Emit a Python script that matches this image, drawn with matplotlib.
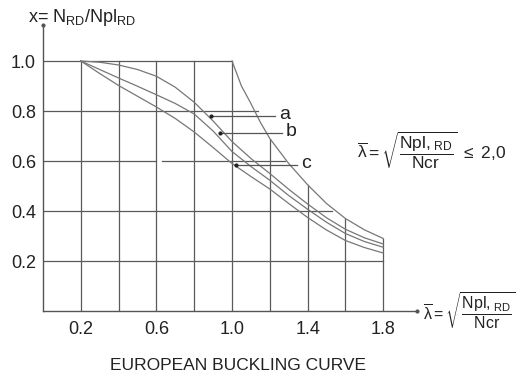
import matplotlib.pyplot as plt

plt.rcParams['font.family'] = ['Liberation Sans', 'DejaVu Sans']
plt.rcParams['mathtext.fontset'] = 'custom'
plt.rcParams['mathtext.rm'] = 'Liberation Sans'
plt.rcParams['mathtext.it'] = 'Liberation Sans'

lam = [0.2, 0.3, 0.4, 0.5, 0.6, 0.7, 0.8, 0.9, 1.0, 1.1, 1.2, 1.3, 1.4, 1.5, 1.6, 1.7, 1.8]
curve_a = [1.0, 0.995, 0.984, 0.966, 0.939, 0.895, 0.835, 0.76, 0.678, 0.61, 0.55, 0.487, 0.428, 0.373, 0.327, 0.293, 0.268]
curve_b = [1.0, 0.966, 0.932, 0.899, 0.865, 0.83, 0.788, 0.72, 0.638, 0.578, 0.523, 0.462, 0.407, 0.355, 0.31, 0.278, 0.255]
curve_c = [1.0, 0.95, 0.902, 0.859, 0.816, 0.77, 0.716, 0.654, 0.59, 0.538, 0.488, 0.43, 0.374, 0.324, 0.282, 0.254, 0.232]

# Euler curve, starting at lambda = 1.0
lam_euler = [1.0, 1.05, 1.1, 1.15, 1.2, 1.3, 1.4, 1.5, 1.6, 1.7, 1.8]
euler = [1.0, 0.9, 0.83, 0.755, 0.69, 0.59, 0.505, 0.43, 0.37, 0.325, 0.29]

# grid: vertical lines and how high they go
vgrid_x = [0.2, 0.4, 0.6, 0.8, 1.0, 1.2, 1.4, 1.6, 1.8]
vgrid_top = [1.0, 1.0, 1.0, 1.0, 1.0, 0.69, 0.505, 0.37, 0.29]
# horizontal lines: (y, x start, x end)
hgrid = [(0.2, 0.0, 1.8), (0.4, 0.0, 1.53), (0.6, 0.0, 0.6), (0.6, 0.63, 1.28),
         (0.8, 0.0, 1.14), (1.0, 0.0, 1.0)]

xticks = [0.2, 0.6, 1.0, 1.4, 1.8]
yticks = [0.2, 0.4, 0.6, 0.8, 1.0]

# curve labels with pointer lines
labels = ['a', 'b', 'c']
dot_x = [0.89, 0.935, 1.02]
dot_y = [0.78, 0.713, 0.584]
ptr_end = [1.23, 1.265, 1.345]

W, H = 521, 374
fig = plt.figure(figsize=(W / 100, H / 100), dpi=100)
x_max, y_max = 1.98, 1.144
ax = fig.add_axes([43 / W, (H - 311) / H, x_max * 189 / W, y_max * 250 / H])
ax.set_xlim(0, x_max)
ax.set_ylim(0, y_max)
for s in ['top', 'right']:
    ax.spines[s].set_visible(False)
for s in ['left', 'bottom']:
    ax.spines[s].set_color('#555555')
    ax.spines[s].set_linewidth(1.0)

ax.set_xticks(xticks)
ax.set_xticklabels([f'{v:.1f}' for v in xticks])
ax.set_yticks(yticks)
ax.set_yticklabels([f'{v:.1f}' for v in yticks])
ax.tick_params(length=0, labelsize=13, colors='#222222')
ax.tick_params(axis='x', pad=7)
ax.tick_params(axis='y', pad=5)

grid_col = '#5a5a5a'
for x, top in zip(vgrid_x, vgrid_top):
    ax.plot([x, x], [0, top], color=grid_col, lw=0.9)
for y, x0, x1 in hgrid:
    ax.plot([x0, x1], [y, y], color=grid_col, lw=0.9)

curve_col = '#777777'
for vals in (curve_a, curve_b, curve_c):
    ax.plot(lam, vals, color=curve_col, lw=0.9)
ax.plot(lam_euler, euler, color=curve_col, lw=0.9)

for lab, dx, dy, xe in zip(labels, dot_x, dot_y, ptr_end):
    ax.plot([dx, xe], [dy, dy], color='#555555', lw=0.9)
    ax.plot(dx, dy, 'o', color='#222222', ms=2)
    ax.text(xe + 0.02, dy + 0.005, lab, fontsize=14, va='center', ha='left', color='#222222')

# axis ends
ax.plot([0], [y_max], 'o', color='#555555', ms=2, clip_on=False)
ax.plot([x_max], [0], 'o', color='#555555', ms=2, clip_on=False)

ax.text(-0.08, 1.172, r'x= N$_{\rm RD}$/Npl$_{\rm RD}$', fontsize=13,
        ha='left', va='center', color='#222222', clip_on=False)

ax.text(x_max + 0.03, 0.0, r'$\overline{\lambda} = \sqrt{\dfrac{\rm Npl,_{RD}}{\rm Ncr}}$',
        fontsize=11.5, ha='left', va='center', color='#222222', clip_on=False)
ax.text(1.66, 0.645, r'$\overline{\lambda} = \sqrt{\dfrac{\rm Npl,_{RD}}{\rm Ncr}}\ \leq\ 2{,}0$',
        fontsize=12.5, ha='left', va='center', color='#222222', clip_on=False)

fig.text(238 / W, 1 - 365 / H, 'EUROPEAN BUCKLING CURVE', fontsize=12.5,
         ha='center', va='center', color='#222222')

fig.savefig('out.png', dpi=100)
